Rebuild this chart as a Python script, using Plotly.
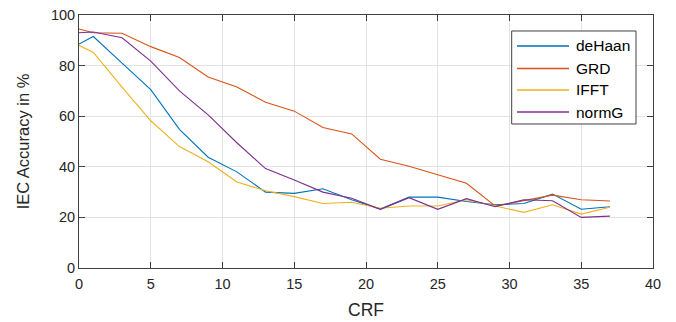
import plotly.graph_objects as go

crf = [0, 1, 3, 5, 7, 9, 11, 13, 15, 17, 19, 21, 23, 25, 27, 29, 31, 33, 35, 37]
dehaan = [88.5, 91.5, 81, 70.5, 54.8, 43.8, 38, 30, 29.5, 31.3, 27, 23.3, 28, 28, 26.3, 25, 25.5, 29.2, 23.2, 24.2]
grd = [94.5, 93, 92.8, 87.5, 83.2, 75.5, 71.5, 65.5, 62, 55.5, 53, 43, 40.2, 36.8, 33.5, 24.5, 26.8, 28.8, 27, 26.5]
ifft = [88, 85.2, 71.5, 58.2, 48, 42, 34, 30.5, 28.2, 25.5, 26, 23.6, 24.5, 24.5, 27, 24.5, 22, 25, 21.3, 24]
normg = [93, 93.3, 91, 81.8, 70, 60.5, 49.5, 39.3, 34.8, 30, 27.6, 23.2, 27.8, 23.2, 27.4, 24.2, 27, 26.6, 20, 20.5]

names = ["deHaan", "GRD", "IFFT", "normG"]
series = [dehaan, grd, ifft, normg]
colors = ["#0072BD", "#D95319", "#EDB120", "#7E2F8E"]

fig = go.Figure()
for n, s, c in zip(names, series, colors):
    fig.add_trace(go.Scatter(x=crf, y=s, mode="lines", name=n,
                             line=dict(color=c, width=1.1), showlegend=False))

axis_common = dict(
    showgrid=True, gridcolor="#e3e3e3", gridwidth=1,
    showline=True, linecolor="#404040", linewidth=1,
    mirror="ticks", ticks="inside", ticklen=6, tickcolor="#404040",
    zeroline=False, automargin=False, tickfont=dict(size=14.5, color="#262626"),
)

# Custom MATLAB-style legend box (paper coordinates)
box_x0, box_x1, box_y0, box_y1 = 0.7538, 0.9704, 0.5692, 0.9368
line_x0, line_x1, text_x = 0.7631, 0.8537, 0.8624
row_y = [0.8775, 0.7885, 0.7036, 0.6166]

shapes = [dict(type="rect", xref="paper", yref="paper",
               x0=box_x0, x1=box_x1, y0=box_y0, y1=box_y1,
               line=dict(color="#404040", width=1), fillcolor="white", layer="above")]
annotations = []
for n, c, yy in zip(names, colors, row_y):
    shapes.append(dict(type="line", xref="paper", yref="paper",
                       x0=line_x0, x1=line_x1, y0=yy, y1=yy,
                       line=dict(color=c, width=1.4), layer="above"))
    annotations.append(dict(xref="paper", yref="paper", x=text_x, y=yy,
                            text=n, showarrow=False, xanchor="left", yanchor="middle",
                            font=dict(size=15.5, color="#000000")))

fig.update_layout(
    width=676, height=322,
    margin=dict(l=79, r=23, t=15, b=54),
    paper_bgcolor="white", plot_bgcolor="white",
    font=dict(family="Liberation Sans, Arial, sans-serif", color="#262626"),
    xaxis=dict(range=[0, 40], tickvals=[0, 5, 10, 15, 20, 25, 30, 35, 40],
               ticklabelstandoff=3,
               title=dict(text="CRF", font=dict(size=17.5), standoff=12),
               **axis_common),
    yaxis=dict(range=[0, 100], tickvals=[0, 20, 40, 60, 80, 100],
               title=dict(text="IEC Accuracy in %", font=dict(size=16.5), standoff=17),
               **axis_common),
    shapes=shapes,
    annotations=annotations,
    showlegend=False,
)

fig.write_html("out.html")
